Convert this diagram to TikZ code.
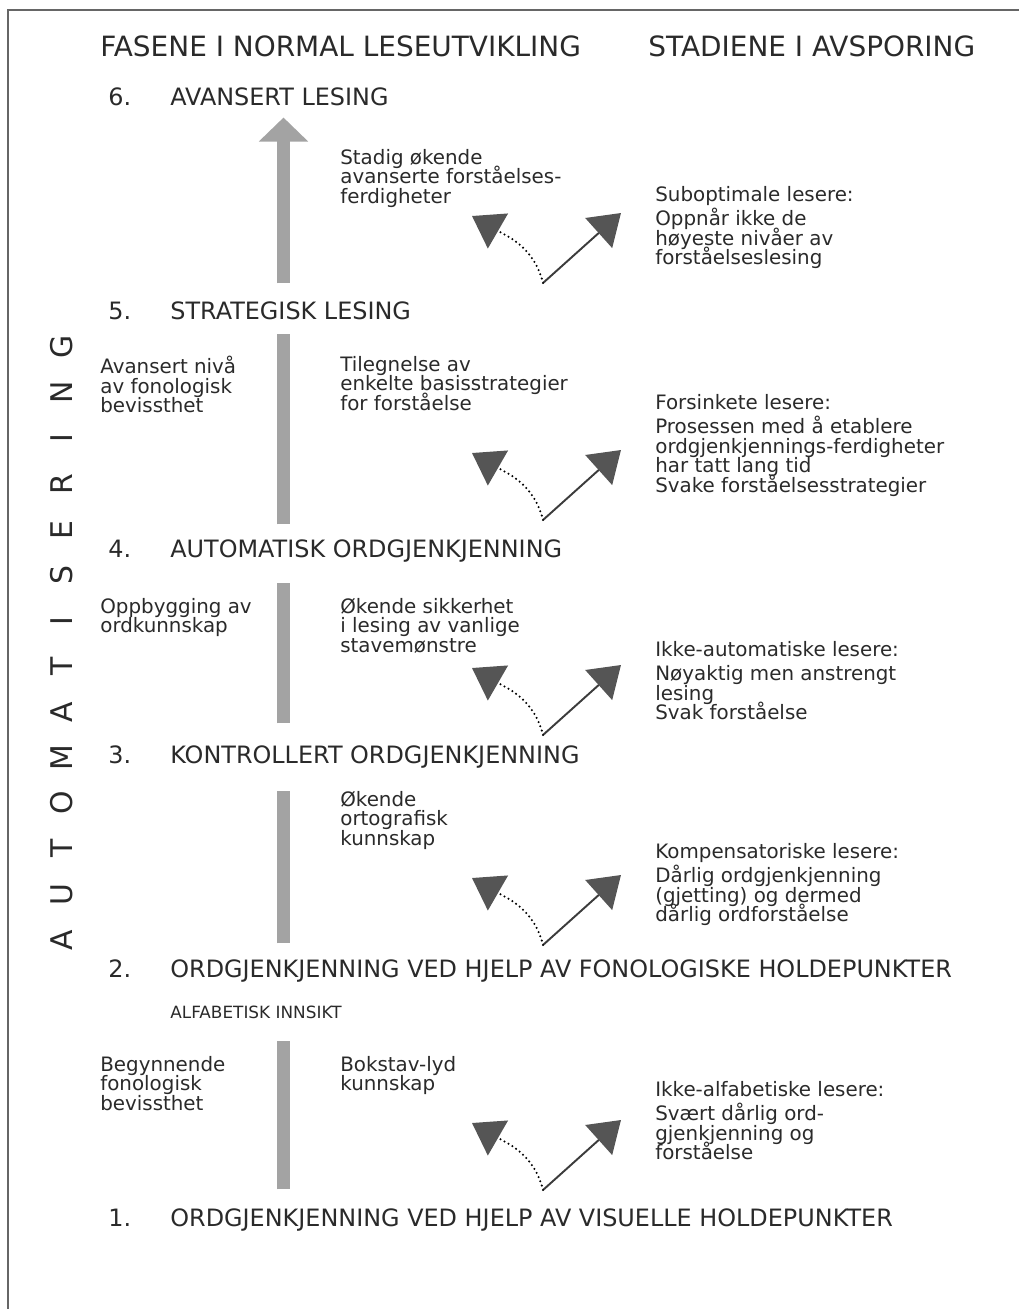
\documentclass[tikz,border=0pt]{standalone}
\usepackage{fontspec}
\setmainfont{DejaVu Sans}
\usetikzlibrary{arrows.meta}
\definecolor{txt}{HTML}{2A2A2A}
\definecolor{bargray}{HTML}{A3A3A3}
\definecolor{headgray}{HTML}{555555}
\definecolor{framegray}{HTML}{666666}
\newcommand\bodyfont{\fontsize{11.3}{11.1}\selectfont\lineskiplimit=-20pt\relax}

\begin{document}
\begin{tikzpicture}[x=0.02cm,y=0.02cm,
  every node/.style={inner sep=0pt,text=txt},
  title/.style={anchor=west,font=\fontsize{15.9}{18}\selectfont},
  stage/.style={anchor=west,font=\fontsize{13.6}{16}\selectfont,text height=9.9pt,text depth=0pt},
  body/.style={anchor=north west,align=left,font=\bodyfont},
  letter/.style={rotate=90,font=\fontsize{17}{20}\selectfont},
  bar/.style={draw=bargray,line width=0.26cm},
  onward/.style={draw=headgray!70!black,line width=1.1pt,-{Triangle[length=0.6cm,width=0.8cm,color=headgray]}},
  derail/.style={draw=black,line width=1.3pt,line cap=round,dash pattern=on 0pt off 2.6pt,-{Triangle[length=0.6cm,width=0.8cm,color=headgray]}}]

   \useasboundingbox (0,0) rectangle (1019,-1309);
   \draw[framegray,line width=1.1pt] (8,-1309) -- (8,-10) -- (1019,-10);

     \path (100,-46) node[title] (hl) {FASENE I NORMAL LESEUTVIKLING};
     \path (648,-46) node[title] (hr) {STADIENE I AVSPORING};

      \path (108,-97) node[stage] (n6) {6.};
      \path (170,-97) node[stage] (s6) {AVANSERT LESING};
      \path (108,-311) node[stage] (n5) {5.};
      \path (170,-311) node[stage] (s5) {STRATEGISK LESING};
      \path (108,-549) node[stage] (n4) {4.};
      \path (170,-549) node[stage] (s4) {AUTOMATISK ORDGJENKJENNING};
      \path (108,-755) node[stage] (n3) {3.};
      \path (170,-755) node[stage] (s3) {KONTROLLERT ORDGJENKJENNING};
      \path (108,-969) node[stage] (n2) {2.};
      \path (170,-969) node[stage] (s2) {ORDGJENKJENNING VED HJELP AV FONOLOGISKE HOLDEPUNKTER};
      \path (108,-1218) node[stage] (n1) {1.};
      \path (170,-1218) node[stage] (s1) {ORDGJENKJENNING VED HJELP AV VISUELLE HOLDEPUNKTER};
      \path (170,-1012) node[anchor=west,font=\fontsize{9.6}{11}\selectfont,text height=7pt,text depth=0pt] (alfa) {ALFABETISK INNSIKT};

      \foreach \ch [count=\i from 0] in {A,U,T,O,M,A,T,I,S,E,R,I,N,G}
        \path (62,-940+45.6*\i) node[letter] (a\i) {\ch};

      \path (100,-356) node[body] (l5) {Avansert nivå\\av fonologisk\\bevissthet};
      \path (100,-598) node[body] (l4) {Oppbygging av\\ordkunnskap};
      \path (100,-1056) node[body] (l1) {Begynnende\\fonologisk\\bevissthet};

      \path (340,-149) node[body] (m6) {Stadig økende\\avanserte forståelses-\\ferdigheter};
      \path (340,-356) node[body] (m5) {Tilegnelse av\\enkelte basisstrategier\\for forståelse};
      \path (340,-598) node[body] (m4) {Økende sikkerhet\\i lesing av vanlige\\stavemønstre};
      \path (340,-791) node[body] (m3) {Økende\\ortografisk\\kunnskap};
      \path (340,-1056) node[body] (m2) {Bokstav-lyd\\kunnskap};

      \path (655,-186) node[body] (r5) {Suboptimale lesere:\\[2.8pt]Oppnår ikke de\\høyeste nivåer av\\forståelseslesing};
      \path (655,-394) node[body] (r4) {Forsinkete lesere:\\[2.8pt]Prosessen med å etablere\\ordgjenkjennings-ferdigheter\\har tatt lang tid\\Svake forståelsesstrategier};
      \path (655,-641) node[body] (r3) {Ikke-automatiske lesere:\\[2.8pt]Nøyaktig men anstrengt\\lesing\\Svak forståelse};
      \path (655,-843) node[body] (r2) {Kompensatoriske lesere:\\[2.8pt]Dårlig ordgjenkjenning\\(gjetting) og dermed\\dårlig ordforståelse};
      \path (655,-1081) node[body] (r1) {Ikke-alfabetiske lesere:\\[2.8pt]Svært dårlig ord-\\gjenkjenning og\\forståelse};

      \coordinate (bx) at (283.5,0);
      \draw[bar,-{Triangle[width=0.96cm,length=0.48cm]},shorten <=0.37cm,shorten >=0.23cm] (s5.north -| bx) -- (s6.south -| bx);
      \draw[bar,shorten <=0.31cm,shorten >=0.27cm] (s4.north -| bx) -- (s5.south -| bx);
      \draw[bar,shorten <=0.45cm,shorten >=0.49cm] (s3.north -| bx) -- (s4.south -| bx);
      \draw[bar,shorten <=0.33cm,shorten >=0.53cm] (s2.north -| bx) -- (s3.south -| bx);
      \draw[bar,shorten <=0.39cm,shorten >=0.44cm] (s1.north -| bx) -- (alfa.south -| bx);

      \foreach \n/\y in {5/283,4/520,3/735,2/945,1/1190} {
        \coordinate (o\n) at (543,-\y);
        \coordinate (u\n) at (621,-\y+70);
        \coordinate (d\n) at (472,-\y+67);
        \draw[onward] (o\n) -- (u\n);
        \draw[derail] (o\n) to[out=104,in=-30] (d\n);
      }

   \end{tikzpicture}
\end{document}
